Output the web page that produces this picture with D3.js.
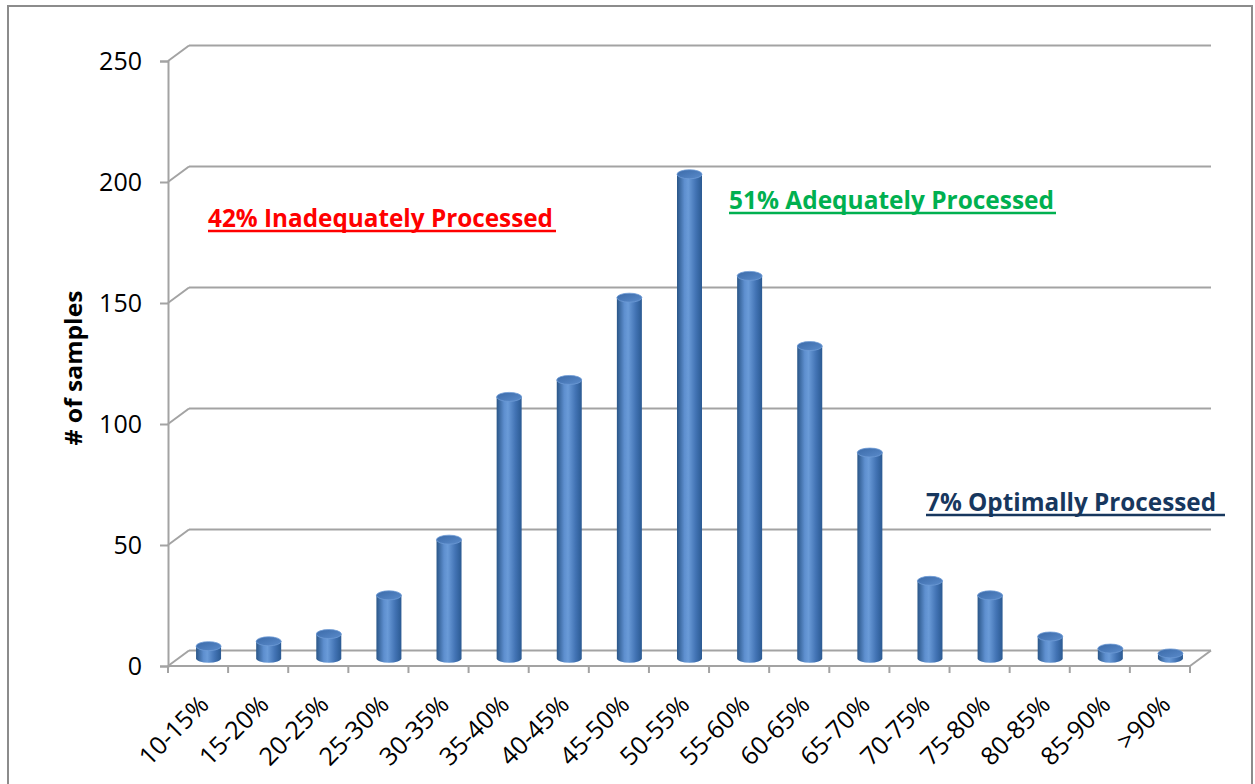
<!DOCTYPE html>
<html>
<head>
<meta charset="utf-8">
<script src="https://cdn.jsdelivr.net/npm/d3@7"></script>
<style>
  body { margin: 0; background: #fff; }
  svg { display: block; font-family: "Open Sans", sans-serif; }
</style>
</head>
<body>
<svg id="chart" width="1255" height="784"></svg>
<script>
// данные
const categories = ["10-15%", "15-20%", "20-25%", "25-30%", "30-35%", "35-40%", "40-45%", "45-50%",
  "50-55%", "55-60%", "60-65%", "65-70%", "70-75%", "75-80%", "80-85%", "85-90%", ">90%"];
const counts = [5, 7, 10, 26, 49, 108, 115, 149, 200, 158, 129, 85, 32, 26, 9, 4, 2];
const yTicks = [0, 50, 100, 150, 200, 250];
const noteTexts = ["42% Inadequately Processed", "51% Adequately Processed", "7% Optimally Processed"];
const noteColors = ["#ff0000", "#00b050", "#17375e"];

const svg = d3.select("#chart");

// рамка
svg.append("rect")
  .attr("x", 8).attr("y", 6).attr("width", 1244).attr("height", 820)
  .attr("fill", "#fff").attr("stroke", "#8c8c8c").attr("stroke-width", 2);

// шкалы (передняя грань)
const x = d3.scaleBand().domain(categories).range([168, 1190]);
const y = d3.scaleLinear().domain([0, 250]).range([666, 61]);
const DX = 21, DY = -15.5; // глубина 3D
const grid = "#a3a3a3";

// сетка на задней стенке + диагонали на боковой
const g = svg.append("g");
yTicks.forEach(t => {
  g.append("line")
    .attr("x1", x.range()[0] + DX).attr("x2", x.range()[1] + DX)
    .attr("y1", y(t) + DY).attr("y2", y(t) + DY)
    .attr("stroke", grid).attr("stroke-width", 2);
  g.append("line")
    .attr("x1", x.range()[0]).attr("y1", y(t))
    .attr("x2", x.range()[0] + DX).attr("y2", y(t) + DY)
    .attr("stroke", grid).attr("stroke-width", 2);
});
// пол
g.append("line")
  .attr("x1", x.range()[0]).attr("x2", x.range()[1])
  .attr("y1", y(0)).attr("y2", y(0))
  .attr("stroke", grid).attr("stroke-width", 2);
g.append("line")
  .attr("x1", x.range()[1]).attr("y1", y(0))
  .attr("x2", x.range()[1] + DX).attr("y2", y(0) + DY)
  .attr("stroke", grid).attr("stroke-width", 2);

// ось Y
const yAxis = svg.append("g")
  .attr("transform", `translate(${x.range()[0]},0)`)
  .call(d3.axisLeft(y).tickValues(yTicks).tickSize(8).tickPadding(18));
yAxis.select(".domain").attr("stroke", grid).attr("stroke-width", 2);
yAxis.selectAll(".tick line").attr("stroke", grid).attr("stroke-width", 2);
yAxis.selectAll(".tick text")
  .attr("font-size", 25).attr("font-family", "Open Sans").attr("fill", "#000");

// ось X: засечки на границах категорий
const bounds = categories.map(c => x(c)).concat([x.range()[1]]);
svg.append("g").selectAll("line").data(bounds).join("line")
  .attr("x1", d => d).attr("x2", d => d)
  .attr("y1", y(0)).attr("y2", y(0) + 7)
  .attr("stroke", grid).attr("stroke-width", 2);

const xAxis = svg.append("g")
  .attr("transform", `translate(0,${y(0)})`)
  .call(d3.axisBottom(x).tickSize(0).tickPadding(0));
xAxis.select(".domain").remove();
xAxis.selectAll(".tick text")
  .attr("font-size", 25).attr("font-family", "Open Sans").attr("fill", "#000")
  .attr("text-anchor", "end")
  .attr("dy", "0.35em")
  .attr("transform", "translate(6,34) rotate(-45)");

// градиенты для цилиндров
const defs = svg.append("defs");
const bodyGrad = defs.append("linearGradient").attr("id", "cyl").attr("x1", "0").attr("x2", "1").attr("y1", "0").attr("y2", "0");
[["0%", "#2a5688"], ["30%", "#5e8fcf"], ["45%", "#6a9bd8"], ["75%", "#4273b4"], ["100%", "#2b5a92"]]
  .forEach(s => bodyGrad.append("stop").attr("offset", s[0]).attr("stop-color", s[1]));
const capGrad = defs.append("linearGradient").attr("id", "cylTop").attr("x1", "0").attr("x2", "1").attr("y1", "0").attr("y2", "1");
[["0%", "#3b6aa8"], ["100%", "#5a8bcb"]]
  .forEach(s => capGrad.append("stop").attr("offset", s[0]).attr("stop-color", s[1]));

// цилиндры
const bw = 25, ry = 4.5;
const bars = svg.append("g").selectAll("g").data(counts).join("g")
  .attr("transform", (d, i) => `translate(${x(categories[i]) + x.bandwidth() / 2 + DX / 2},${DY / 2})`);
bars.append("path")
  .attr("d", d => {
    const yb = y(0), yt = y(d);
    return `M${-bw / 2},${yt} L${-bw / 2},${yb} A${bw / 2},${ry} 0 0 0 ${bw / 2},${yb} L${bw / 2},${yt} Z`;
  })
  .attr("fill", "url(#cyl)");
bars.append("ellipse")
  .attr("cx", 0).attr("cy", d => y(d))
  .attr("rx", bw / 2).attr("ry", ry)
  .attr("fill", "url(#cylTop)")
  .attr("stroke", "#6d9bd6").attr("stroke-width", 0.8);

// подписи-аннотации
const notes = [
  { x0: 208, base: 227, len: 345, ul: 348 },
  { x0: 729, base: 209, len: 325, ul: 327 },
  { x0: 926, base: 511, len: 290, ul: 299 }
];
notes.forEach((n, i) => {
  svg.append("text")
    .attr("x", n.x0).attr("y", n.base)
    .attr("font-size", 25).attr("font-weight", "bold").attr("font-family", "Open Sans")
    .attr("fill", noteColors[i])
    .attr("textLength", n.len).attr("lengthAdjust", "spacingAndGlyphs")
    .text(noteTexts[i]);
  svg.append("line")
    .attr("x1", n.x0).attr("x2", n.x0 + n.ul)
    .attr("y1", n.base + 4).attr("y2", n.base + 4)
    .attr("stroke", noteColors[i]).attr("stroke-width", 2.5);
});

// подпись оси Y
svg.append("text")
  .attr("transform", "translate(82,368) rotate(-90)")
  .attr("text-anchor", "middle")
  .attr("font-size", 23).attr("font-weight", "bold").attr("font-family", "Open Sans")
  .attr("textLength", 155).attr("lengthAdjust", "spacingAndGlyphs")
  .text("# of samples");
</script>
</body>
</html>
